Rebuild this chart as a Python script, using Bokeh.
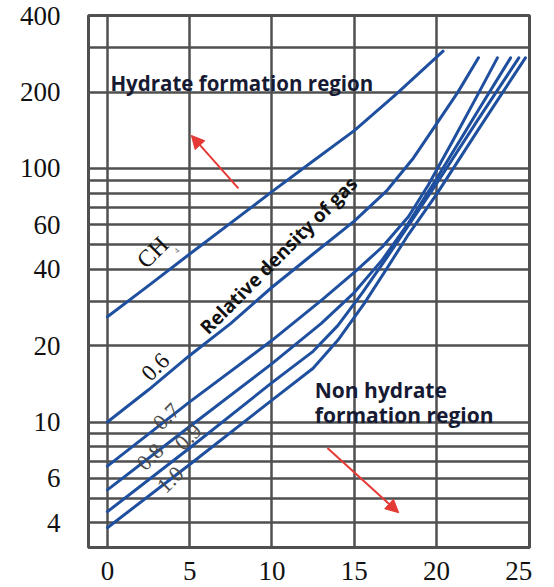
import math
from bokeh.plotting import figure
from bokeh.models import Range1d, FixedTicker, NumeralTickFormatter, Label, Arrow, NormalHead
from bokeh.embed import file_html
from bokeh.resources import INLINE

# Hydrate formation curves: temperature (x) vs pressure (y, log scale)
ch4_t = [0, 2.5, 5, 7.5, 10, 12.5, 15, 17.5, 20.4]
ch4_p = [26, 34.5, 46, 61, 81, 107, 141, 195, 290]

g06_t = [0, 2.5, 5, 7.5, 10, 12.5, 15, 17, 18.6, 20, 21.3, 22.55]
g06_p = [10, 13.4, 18.3, 24.5, 34, 46, 62, 82, 110, 150, 200, 273]

g07_t = [0, 5, 10, 13, 15, 16.7, 18.3, 19.5, 21, 22.5, 23.7]
g07_p = [6.7, 12, 21, 30.2, 38.9, 49, 64.6, 86, 129, 195, 273]

g08_t = [0, 5, 10, 13, 15, 16.7, 18.3, 20, 22.5, 24.5]
g08_p = [5.4, 9.6, 17, 24.5, 32.4, 43.6, 61, 91, 168, 273]

g09_t = [0, 5, 10, 12.5, 14, 15.5, 17, 18.3, 20, 22.5, 25.0]
g09_p = [4.43, 7.9, 14.3, 19, 24, 32.4, 44.7, 59.6, 87, 155, 273]

g10_t = [0, 5, 10, 12.5, 14, 15.6, 17, 18.3, 20, 22.5, 25.4]
g10_p = [3.83, 6.8, 12.2, 16.3, 21, 29.3, 40.5, 55, 79, 141, 273]

x_ticks = [0, 5, 10, 15, 20, 25]
x_grid = [0, 5, 10, 15, 20]
y_ticks = [4, 6, 10, 20, 40, 60, 100, 200, 400]
y_grid = [4, 5, 6, 7, 8, 9, 10, 20, 30, 40, 50, 60, 70, 80, 90, 100, 200, 300]

LINE = "#1f4f9f"
GRID = "#505050"
RED = "#e53935"

p = figure(width=554, height=587, y_axis_type="log",
           x_range=Range1d(-1.15, 25.65), y_range=Range1d(3.2, 401),
           output_backend="svg", toolbar_location=None,
           min_border_left=88, min_border_right=25,
           min_border_top=15, min_border_bottom=40)
p.background_fill_color = "white"
p.border_fill_color = "white"
p.outline_line_color = GRID
p.outline_line_width = 3

p.xaxis.ticker = FixedTicker(ticks=x_ticks)
p.yaxis.ticker = FixedTicker(ticks=y_ticks)
p.yaxis.formatter = NumeralTickFormatter(format="0")
p.xaxis.formatter = NumeralTickFormatter(format="0")
for ax in (p.xaxis[0], p.yaxis[0]):
    ax.axis_line_color = None
    ax.major_tick_line_color = None
    ax.minor_tick_line_color = None
    ax.major_label_text_font = "Liberation Serif"
    ax.major_label_text_font_size = "27px"
    ax.major_label_text_color = "#111111"
p.xaxis.major_label_standoff = 8
p.yaxis.major_label_standoff = 22

p.xgrid.ticker = FixedTicker(ticks=x_grid)
p.ygrid.ticker = FixedTicker(ticks=y_grid)
for g in (p.xgrid[0], p.ygrid[0]):
    g.grid_line_color = GRID
    g.grid_line_width = 2.5
    g.grid_line_alpha = 1.0

for t, pr in [(ch4_t, ch4_p), (g06_t, g06_p), (g07_t, g07_p),
              (g08_t, g08_p), (g09_t, g09_p), (g10_t, g10_p)]:
    p.line(t, pr, line_color=LINE, line_width=3, line_join="round", line_cap="round")

SANS = "Open Sans"
SERIF = "Liberation Serif"
TXT = "#161a33"

p.add_layout(Label(x=0.18, y=218, text="Hydrate formation region", text_font=SANS,
                   text_font_style="bold", text_font_size="20.5px", text_color=TXT,
                   text_baseline="middle", text_align="left"))
p.add_layout(Label(x=12.6, y=13.4, text="Non hydrate", text_font=SANS,
                   text_font_style="bold", text_font_size="21px", text_color=TXT,
                   text_baseline="middle", text_align="left"))
p.add_layout(Label(x=12.6, y=10.65, text="formation region", text_font=SANS,
                   text_font_style="bold", text_font_size="21px", text_color=TXT,
                   text_baseline="middle", text_align="left"))
p.add_layout(Label(x=10.4, y=45.4, text="Relative density of gas", text_font=SANS,
                   text_font_style="bold", text_font_size="19px", text_color="#111111",
                   angle=math.radians(45), text_baseline="middle", text_align="center"))

serif_labels = [("CH", 2.74, 46.7, "#111111", "24px"),
                ("0.6", 2.92, 16.5, "#111111", "23px"),
                ("0.7", 3.59, 10.5, "#4a4a4a", "22px"),
                ("0.8", 2.61, 7.28, "#4a4a4a", "22px"),
                ("0.9", 4.92, 8.73, "#4a4a4a", "22px"),
                ("1.0", 3.83, 5.91, "#4a4a4a", "22px")]
for txt, x, y, c, fs in serif_labels:
    p.add_layout(Label(x=x, y=y, text=txt, text_font=SERIF, text_font_size=fs,
                       text_color=c, angle=math.radians(45),
                       text_baseline="middle", text_align="center"))
p.add_layout(Label(x=4.2, y=47.5, text="4", text_font=SERIF, text_font_size="8px",
                   text_color="#777777", angle=math.radians(45),
                   text_baseline="middle", text_align="center"))

p.add_layout(Arrow(end=NormalHead(size=13, fill_color=RED, line_color=RED),
                   x_start=7.96, y_start=83.4, x_end=5.1, y_end=135,
                   line_color=RED, line_width=2))
p.add_layout(Arrow(end=NormalHead(size=13, fill_color=RED, line_color=RED),
                   x_start=13.37, y_start=7.9, x_end=17.7, y_end=4.39,
                   line_color=RED, line_width=2))

open("out.html", "w").write(file_html(p, INLINE))
